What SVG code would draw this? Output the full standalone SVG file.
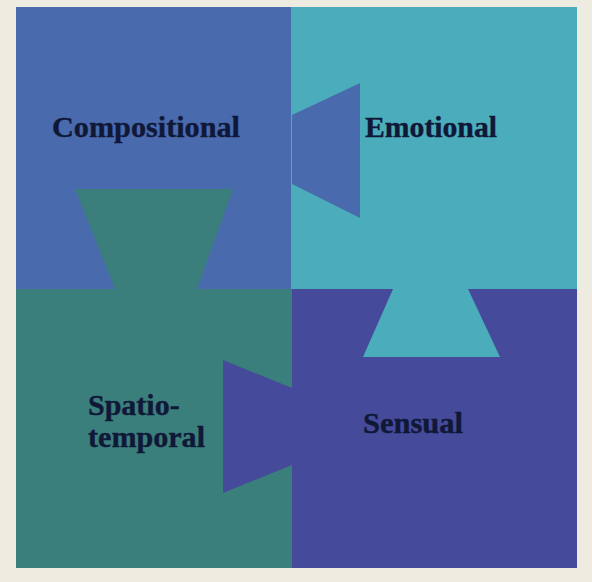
<svg xmlns="http://www.w3.org/2000/svg" width="592" height="582" viewBox="0 0 592 582">
<style>
.lbl{font-family:"Liberation Serif","Times New Roman",serif;font-weight:bold;font-size:30px;fill:#101838;stroke:#101838;stroke-width:0.4}
</style>
<rect x="0" y="0" width="592" height="582" fill="#EEEBE0"/>
<g id="compositional">
<rect x="16" y="7" width="275" height="282" fill="#4A6AAE"/>
</g>
<g id="emotional">
<rect x="291" y="7" width="286" height="282" fill="#4BADBB"/>
</g>
<g id="spatio-temporal">
<rect x="16" y="289" width="276" height="279" fill="#3B7F7C"/>
</g>
<g id="sensual">
<rect x="292" y="289" width="285" height="279" fill="#464A9A"/>
</g>
<g id="connectors">
<polygon points="292,115 360,83 360,218 292,184" fill="#4A6AAE"/>
<polygon points="75,189 233,189 197,289 115,289" fill="#3B7F7C"/>
<polygon points="393,289 468,289 500,357 363,357" fill="#4BADBB"/>
<polygon points="223,360 292,388 292,465 223,493" fill="#464A9A"/>
</g>
<g id="labels">
<text class="lbl" x="52" y="137" textLength="188" lengthAdjust="spacingAndGlyphs">Compositional</text>
<text class="lbl" x="365" y="137" textLength="132" lengthAdjust="spacingAndGlyphs">Emotional</text>
<text class="lbl" x="88" y="415">Spatio-</text>
<text class="lbl" x="88" y="447" textLength="117" lengthAdjust="spacingAndGlyphs">temporal</text>
<text class="lbl" x="363" y="433" textLength="100" lengthAdjust="spacingAndGlyphs">Sensual</text>
</g>
</svg>
